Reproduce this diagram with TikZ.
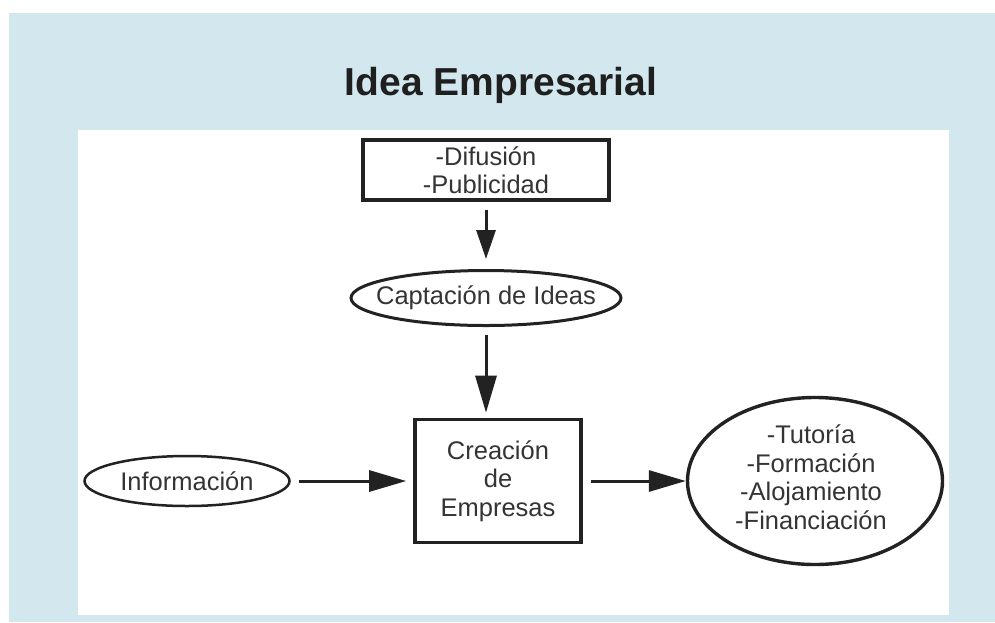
\documentclass[tikz,border=0pt]{standalone}
\usepackage{fontspec}
\setmainfont{Liberation Sans}
\usetikzlibrary{%
  arrows.meta,shapes}
\definecolor{fondo}{RGB}{211,232,238}
\definecolor{linea}{RGB}{34,34,34}
\definecolor{letra}{RGB}{52,52,52}
\tikzset {>={Triangle[length=37pt,width=21pt]}}
\tikzset{
  texto/.style={text=letra,align=center,
    font=\fontsize{25.5}{28.5}\selectfont},
  caja/.style={texto,draw=linea,line width=3.2pt,inner sep=0pt},
  ovalo/.style={draw=linea,line width=3pt,ellipse,inner sep=0pt},
  flecha/.style={->,draw=linea,line width=3pt,
    shorten <=8pt,shorten >=6pt}}

\begin{document}
\begin{tikzpicture}[x=1pt,y=-1pt]
\useasboundingbox (0,0) rectangle (995,622);
\fill[fondo] (9,13) rectangle (995,622);
\fill[white] (78,130) rectangle (949,615);
\node[anchor=base,text=black!88,
  font=\fontsize{39}{44}\selectfont\bfseries] (titulo)
  at (501,95) {Idea Empresarial};
\node[caja,minimum width=246pt,minimum height=60pt] (difus)
  at (486,170) {-Difusión\\-Publicidad};
\node[ovalo,minimum width=270pt,minimum height=55pt] (capta)
  at (486,298) {};
\node[texto] (captaTxt) at (capta) {Captación de Ideas};
\node[caja,line width=3.6pt,minimum width=166pt,minimum height=123pt] (creac)
  at (498,481) {Creación\\de\\Empresas};
\node[ovalo,line width=2.5pt,minimum width=205pt,minimum height=50pt] (info)
  at (187,481) {};
\node[texto] (infoTxt) at (info) {Información};
\node[ovalo,line width=3.4pt,minimum width=255pt,minimum height=167pt] (apoyo)
  at (815,481) {};
\node[texto] (apoyoTxt) at (811,477)
  {-Tutoría\\-Formación\\-Alojamiento\\-Financiación};
\draw[flecha,>={Triangle[length=29pt,width=19pt]},shorten >=10pt]
  (difus) -- (capta);
\draw[flecha,shorten >=5pt] (capta) -- (capta |- creac.north);
\draw[flecha,shorten >=7pt] (info) -- (creac);
\draw[flecha,shorten >=0pt] (creac) -- (apoyo);
\end{tikzpicture}
\end{document}
